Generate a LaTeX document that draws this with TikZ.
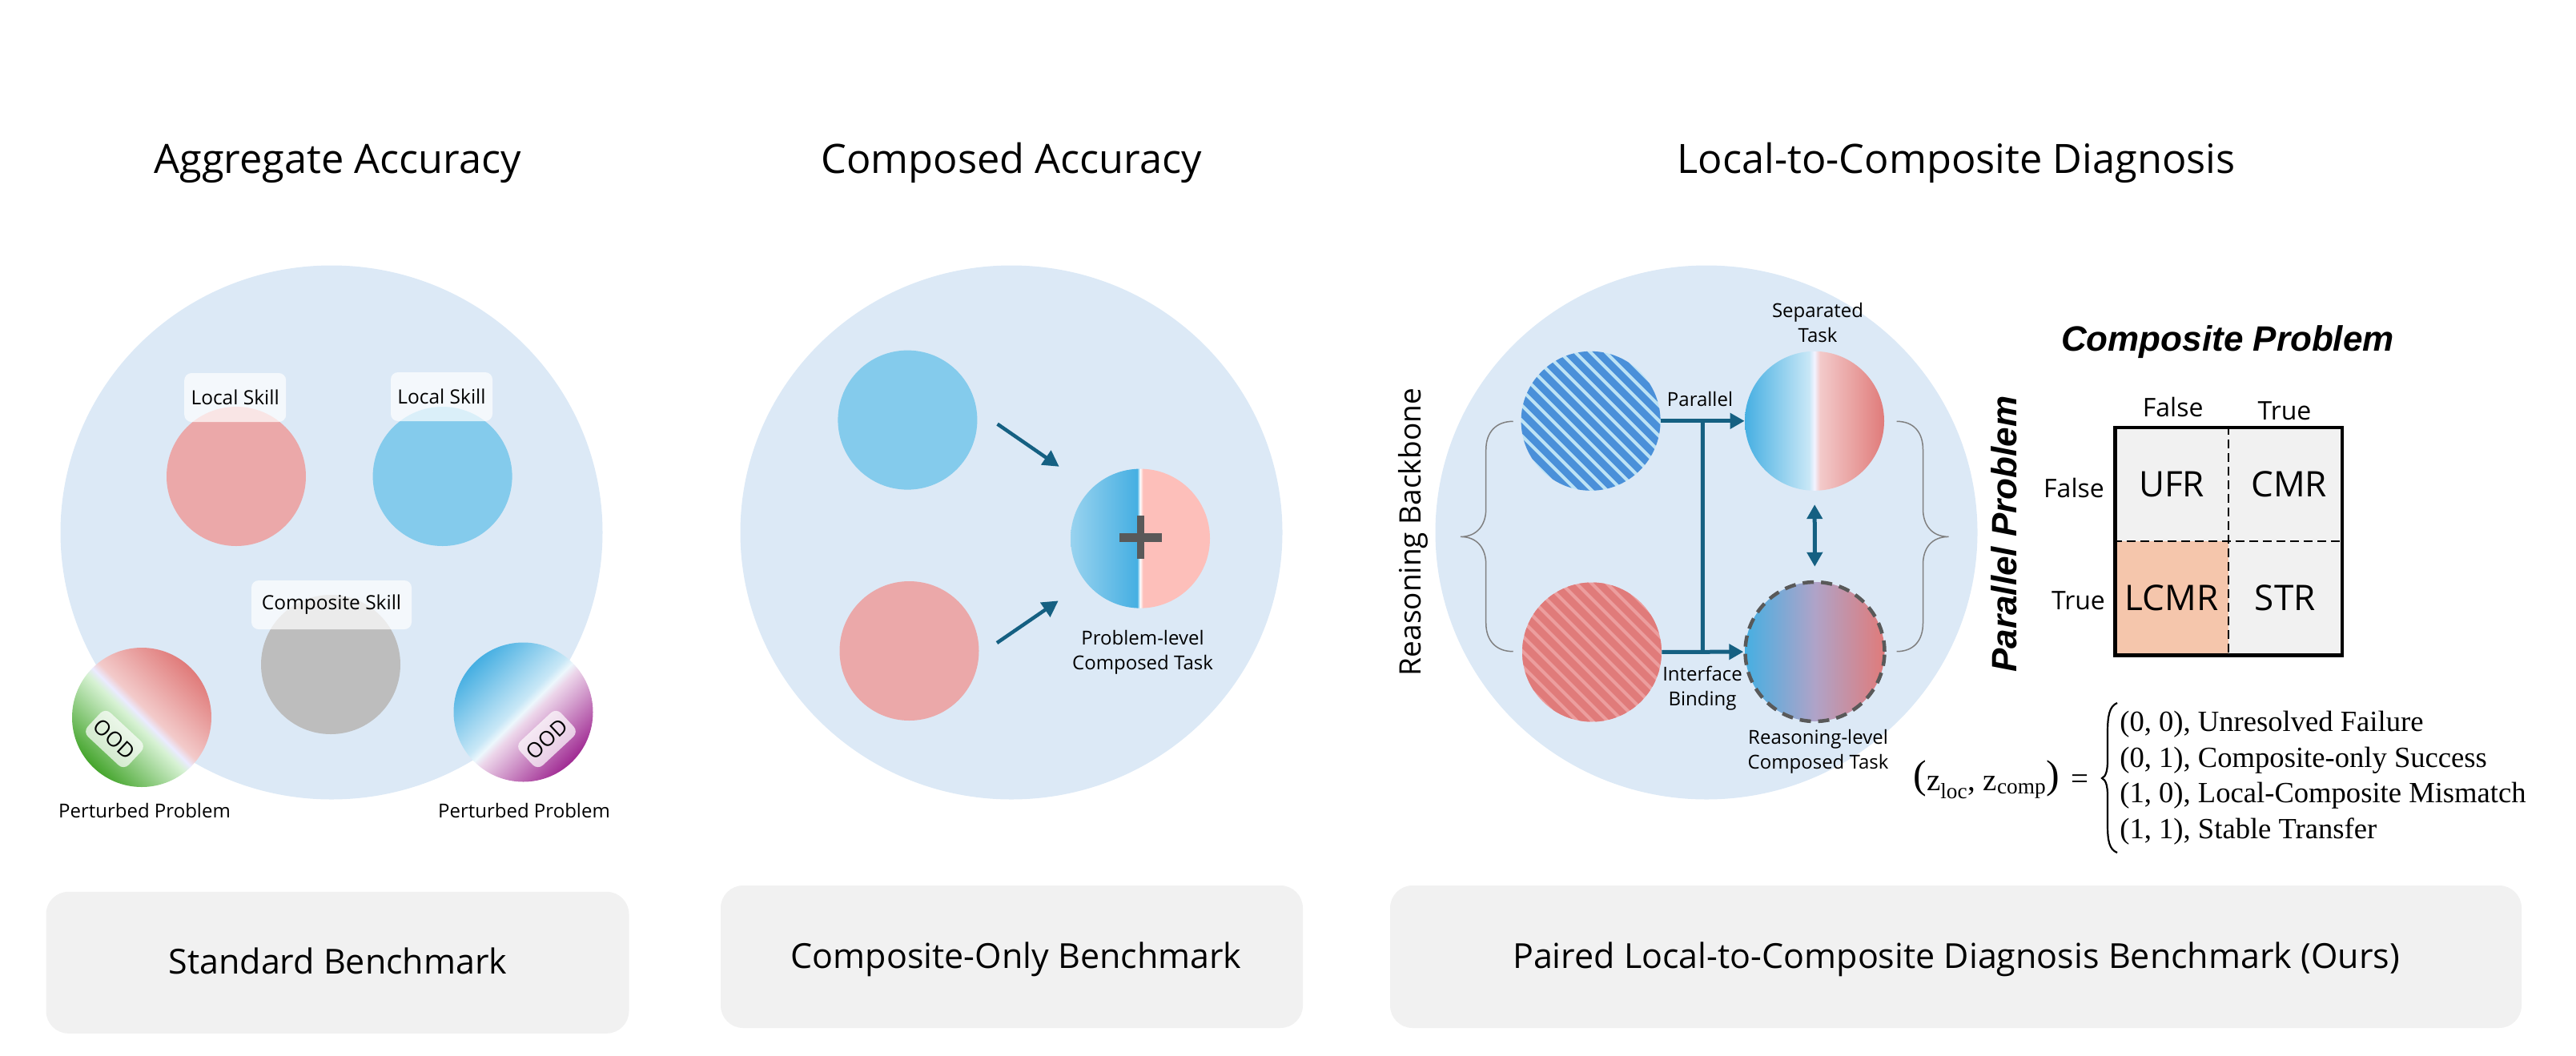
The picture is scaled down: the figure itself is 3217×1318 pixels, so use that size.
\documentclass[tikz,border=0pt]{standalone}
\usepackage{fontspec}
\setmainfont{Open Sans}
\newfontfamily\arialfont{Liberation Sans}
\newfontfamily\eqfont{Liberation Serif}
\usetikzlibrary{arrows.meta,shapes.geometric}

\definecolor{panelblue}{HTML}{DCE9F6}
\definecolor{softred}{HTML}{EBA8A9}
\definecolor{softblue}{HTML}{84CBEC}
\definecolor{softgray}{HTML}{BDBDBD}
\definecolor{boxgray}{HTML}{F1F1F1}
\definecolor{flowblue}{HTML}{156082}
\definecolor{plusgray}{HTML}{595959}
\definecolor{bracegray}{HTML}{808080}
\definecolor{deepblue}{HTML}{46AFE2}
\definecolor{deepred}{HTML}{E07B7A}
\definecolor{deepgreen}{HTML}{45A52D}
\definecolor{deeppurple}{HTML}{A02B93}
\definecolor{pinkred}{HTML}{FDBFBA}
\definecolor{mixmid}{HTML}{AFA3C8}
\definecolor{stripeblue}{HTML}{4A90D9}
\definecolor{stripelight}{HTML}{BDE3F5}
\definecolor{stripered}{HTML}{E07B7A}
\definecolor{stripepink}{HTML}{EC9E9E}
\definecolor{lcmrfill}{HTML}{F5C6AC}

\pgfdeclarehorizontalshading{greenred}{100bp}{color(0bp)=(deepgreen); color(25bp)=(deepgreen); color(47bp)=(green!25!deepgreen!20!white); color(50bp)=(white!92!blue); color(53bp)=(deepred!40!white); color(75bp)=(deepred); color(100bp)=(deepred)}
\pgfdeclarehorizontalshading{bluepurple}{100bp}{color(0bp)=(deepblue); color(25bp)=(deepblue); color(47bp)=(deepblue!30!white); color(50bp)=(deepblue!10!white); color(53bp)=(deeppurple!20!white); color(75bp)=(deeppurple); color(100bp)=(deeppurple)}
\pgfdeclarehorizontalshading{separated}{100bp}{color(0bp)=(deepblue); color(25bp)=(deepblue); color(48bp)=(deepblue!30!white); color(50bp)=(white!95!blue); color(52bp)=(deepred!40!white); color(75bp)=(deepred); color(100bp)=(deepred)}
\pgfdeclarehorizontalshading{composed}{100bp}{color(0bp)=(deepblue); color(25bp)=(deepblue); color(50bp)=(mixmid); color(75bp)=(deepred); color(100bp)=(deepred)}
\pgfdeclarehorizontalshading{halfsplit}{100bp}{color(0bp)=(deepblue!55!white); color(25bp)=(deepblue!55!white); color(48.9bp)=(deepblue); color(49.9bp)=(white); color(51bp)=(pinkred); color(100bp)=(pinkred)}

\tikzset{every picture/.style={line width=0.75pt}}
\tikzset{
  panel/.style={ellipse,fill=panelblue,minimum width=677pt,minimum height=667pt,inner sep=0pt},
  skill/.style={circle,minimum size=174pt,inner sep=0pt},
  tag/.style={fill=white,fill opacity=0.7,text opacity=1,rounded corners=9pt,minimum width=127pt,minimum height=61pt,inner sep=0pt,font=\fontsize{24.5}{30}\selectfont},
  oodtag/.style={tag,minimum width=70pt,minimum height=41pt,font=\fontsize{26}{30}\selectfont},
  lab/.style={inner sep=0pt,font=\fontsize{24}{31}\selectfont,align=center},
  titletxt/.style={inner sep=0pt,anchor=base,font=\fontsize{50.5}{60}\selectfont},
  bench/.style={fill=boxgray,rounded corners=28pt,inner sep=0pt},
  benchtxt/.style={inner sep=0pt,anchor=base,font=\fontsize{43}{50}\selectfont},
  flowline/.style={draw=flowblue,line width=5pt},
  flowarrow/.style={flowline,-{Triangle[length=18pt,width=19pt]}},
  bothways/.style={flowline,{Triangle[length=18pt,width=19pt]}-{Triangle[length=18pt,width=19pt]},shorten >=17pt,shorten <=17pt},
  bracelin/.style={draw=bracegray,line width=1.5pt},
  gridtxt/.style={inner sep=0pt,anchor=base,font=\fontsize{32}{38}\selectfont},
  cell/.style={minimum width=141.5pt,minimum height=142pt,inner sep=0pt,font=\fontsize{44}{52}\selectfont},
  axistxt/.style={inner sep=0pt,anchor=base,font=\arialfont\bfseries\itshape\fontsize{44}{52}\selectfont},
  eqtxt/.style={inner sep=0pt,anchor=base west,font=\eqfont\fontsize{36.6}{44}\selectfont},
  eqbig/.style={inner sep=0pt,anchor=base west,font=\eqfont\fontsize{39}{46}\selectfont},
  stripes/.style n args={2}{circle,minimum size=174pt,inner sep=0pt,fill=#2,path picture={
      \foreach \k in {-9,...,9}
        \draw[#1,line width=9pt] ([shift={(\k*19-120,120)}]path picture bounding box.center) -- ([shift={(\k*19+120,-120)}]path picture bounding box.center);
  }}
}

\begin{document}
\begin{tikzpicture}[x=1pt,y=1pt,yscale=-1,xscale=1]
    \useasboundingbox (0,0) rectangle (3217,1318);

    %Titles
    \node[titletxt] (titleaggregate) at (421.8,216.7) {Aggregate Accuracy};
    \node[titletxt] (titlecomposed) at (1263,216.7) {Composed Accuracy};
    \node[titletxt] (titlediagnosis) at (2443,216.7) {Local-to-Composite Diagnosis};

    %Shape: Panels
    \node[panel] (panelleft) at (414,665) {};
    \node[panel] (panelmid) at (1263,665) {};
    \node[panel] (panelright) at (2131,665) {};

    %Left panel
    \node[skill,fill=softred] (localred) at (295,595) {};
    \node[skill,fill=softblue] (localblue) at (552.6,595) {};
    \node[skill,fill=softgray] (compgray) at (413,830) {};
    \node[tag] (tagred) at (293.7,496.5) {Local Skill};
    \node[tag] (tagblue) at (551.5,495.5) {Local Skill};
    \node[tag,minimum width=200pt] (taggray) at (414,755.5) {Composite Skill};
    \node[skill,shading=greenred,shading angle=45] (oodgreen) at (177,896) {};
    \node[skill,shading=bluepurple,shading angle=-45] (oodpurple) at (653.5,889.5) {};
    \node[oodtag,rotate=-43] (oodtagleft) at (143,923) {OOD};
    \node[oodtag,rotate=43] (oodtagright) at (683,923) {OOD};
    \node[lab,anchor=base] (pertleft) at (180.5,1021.7) {Perturbed Problem};
    \node[lab,anchor=base] (pertright) at (654.5,1021.7) {Perturbed Problem};

    %Middle panel
    \node[skill,fill=softblue] (midblue) at (1133.4,524.6) {};
    \node[skill,fill=softred] (midred) at (1135.5,813) {};
    \node[skill,shading=halfsplit] (midsplit) at (1424,672.6) {};
    \node[lab] (midlabel) at (1427,815) {Problem-level\\Composed Task};
    \coordinate (arrowtopfrom) at (1245.6,529.6);
    \coordinate (arrowtopto) at (1322.7,582.8);
    \coordinate (arrowbotfrom) at (1245,803);
    \coordinate (arrowbotto) at (1321.7,750.4);
    \draw[flowline,line width=4.5pt,-{Triangle[length=20pt,width=21pt]}] (arrowtopfrom) -- (arrowtopto);
    \draw[flowline,line width=4.5pt,-{Triangle[length=20pt,width=21pt]}] (arrowbotfrom) -- (arrowbotto);
    %Plus sign
    \node[fill=plusgray,minimum width=52.6pt,minimum height=10.5pt,inner sep=0pt] (plusbar) at (1424.3,671.3) {};
    \node[fill=plusgray,minimum width=8.5pt,minimum height=54pt,inner sep=0pt] (plusstem) at (1424.3,671) {};

    %Right panel
    \node[stripes={stripeblue}{stripelight}] (stripedblue) at (1986.6,525.8) {};
    \node[stripes={stripered}{stripepink}] (stripedred) at (1988,814.5) {};
    \node[skill,shading=separated] (septask) at (2266,525.8) {};
    \node[skill,shading=composed,draw=plusgray,line width=4.5pt,dash pattern={on 14pt off 9pt}] (mixtask) at (2266.5,814) {};
    \draw[flowarrow] (stripedblue) -- coordinate (jointop) (septask);
    \draw[flowarrow] (stripedred) -- coordinate (joinbot) (mixtask);
    \draw[flowline] (jointop) -- (joinbot);
    \draw[bothways] (septask) -- (mixtask);
    \node[lab,anchor=base] (lblparallel) at (2123,507.5) {Parallel};
    \node[lab] (lblseparated) at (2270,403) {Separated\\Task};
    \node[lab] (lblinterface) at (2126,860) {Interface\\Binding};
    \node[lab] (lblreasoning) at (2270.5,939) {Reasoning-level\\Composed Task};
    %Curve Lines
    \draw[bracelin] (1889.7,526.3) .. controls (1868,526.3) and (1855.7,540) .. (1855.7,562) -- (1855.7,636) .. controls (1855.7,655) and (1845,670.4) .. (1824,670.4) .. controls (1845,670.4) and (1855.7,685) .. (1855.7,705) -- (1855.7,778) .. controls (1855.7,800) and (1868,813.7) .. (1889.7,813.7);
    \draw[bracelin] (2368.6,526.3) .. controls (2390,526.3) and (2401.5,540) .. (2401.5,562) -- (2401.5,636) .. controls (2401.5,655) and (2412,670.4) .. (2433.5,670.4) .. controls (2412,670.4) and (2401.5,685) .. (2401.5,705) -- (2401.5,778) .. controls (2401.5,800) and (2390,813.7) .. (2368.6,813.7);
    \node[inner sep=0pt,anchor=base,rotate=90,font=\fontsize{37}{44}\selectfont] (backbone) at (1774,664.6) {Reasoning Backbone};

    %Matrix
    \node[axistxt] (axistop) at (2782,438) {Composite Problem};
    \node[axistxt,rotate=90] (axisleft) at (2518.6,667) {Parallel Problem};
    \node[gridtxt] (colfalse) at (2713.7,520.6) {False};
    \node[gridtxt] (coltrue) at (2853,524) {True};
    \node[gridtxt] (rowfalse) at (2590,621) {False};
    \node[gridtxt] (rowtrue) at (2595.5,761.7) {True};
    \node[cell,fill=boxgray] (cellufr) at (2712,604.8) {UFR};
    \node[cell,fill=boxgray] (cellcmr) at (2853.7,604.8) {\hspace*{10pt}CMR};
    \node[cell,fill=lcmrfill] (celllcmr) at (2712,746.8) {LCMR};
    \node[cell,fill=boxgray] (cellstr) at (2853.7,746.8) {STR};
    \node[draw=black,line width=4.5pt,minimum width=283.5pt,minimum height=284.4pt,inner sep=0pt] (grid) at (2783.2,676.2) {};
    \draw[dash pattern={on 11pt off 6pt},line width=1.5pt] (grid.north) -- (grid.south);
    \draw[dash pattern={on 11pt off 6pt},line width=1.5pt] (grid.west) -- (grid.east);

    %Equation
    \node[eqbig] (eqleft) at (2389,987) {\raisebox{3pt}{\fontsize{50}{50}\selectfont(}z\textsubscript{loc}, z\textsubscript{comp}\raisebox{3pt}{\fontsize{50}{50}\selectfont)}};
    \node[eqbig,anchor=base] (eqsign) at (2597,985) {=};
    \draw[line width=2.2pt] (2644,878) .. controls (2634,882) and (2632,895) .. (2632,915) -- (2632,950) .. controls (2632,962) and (2630,970) .. (2625,972) .. controls (2630,974) and (2632,982) .. (2632,994) -- (2632,1030) .. controls (2632,1050) and (2634,1061) .. (2644,1065);
    \node[eqtxt] (eqone) at (2647,913.5) {(0, 0), Unresolved Failure};
    \node[eqtxt] (eqtwo) at (2647,958) {(0, 1), Composite-only Success};
    \node[eqtxt] (eqthree) at (2647,1002.8) {(1, 0), Local-Composite Mismatch};
    \node[eqtxt] (eqfour) at (2647,1047.4) {(1, 1), Stable Transfer};

    %Bottom boxes
    \node[bench,minimum width=728pt,minimum height=177pt] (benchstd) at (421.5,1202.3) {};
    \node[bench,minimum width=727pt,minimum height=178pt] (benchcomp) at (1263.5,1195) {};
    \node[bench,minimum width=1413pt,minimum height=178pt] (benchours) at (2442.5,1195) {};
    \node[benchtxt] (txtstd) at (422,1216.7) {Standard Benchmark};
    \node[benchtxt] (txtcomp) at (1269,1209.3) {Composite-Only Benchmark};
    \node[benchtxt] (txtours) at (2443,1209.3) {Paired Local-to-Composite Diagnosis Benchmark (Ours)};
\end{tikzpicture}
\end{document}
